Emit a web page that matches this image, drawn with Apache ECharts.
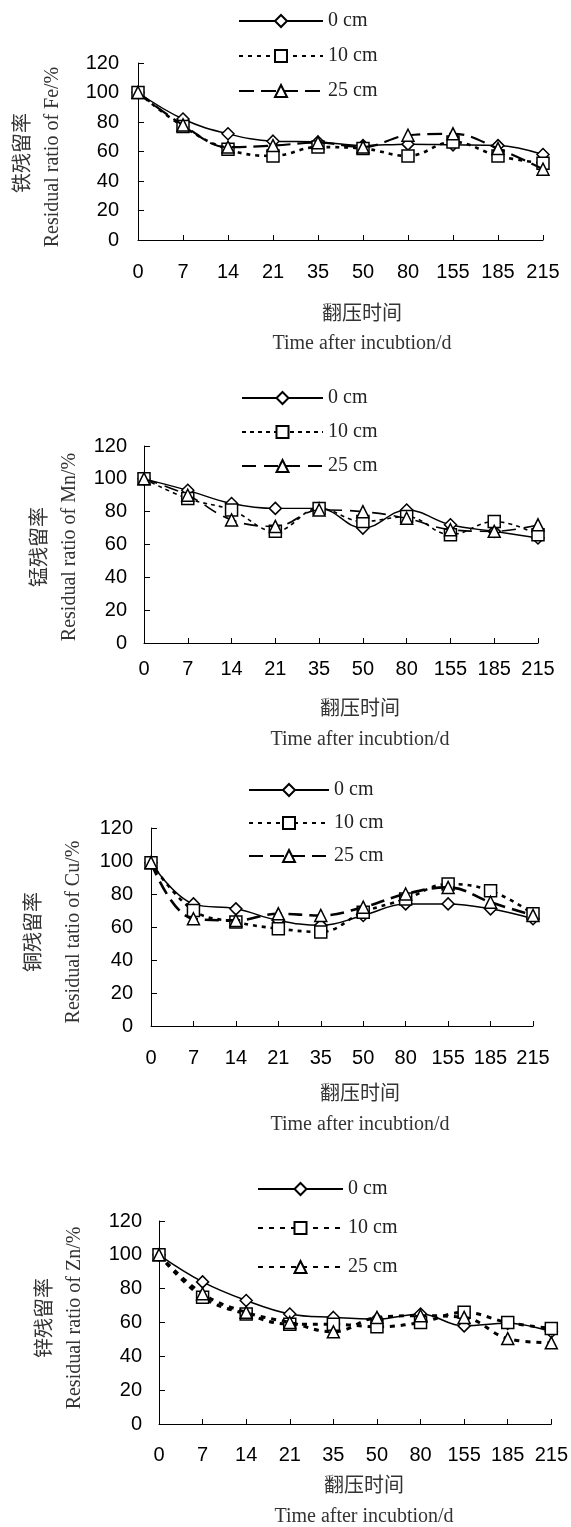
<!DOCTYPE html>
<html><head><meta charset="utf-8">
<script src="https://cdn.jsdelivr.net/npm/echarts@6/dist/echarts.min.js"></script>
<style>
html,body{margin:0;padding:0;background:#fff;}
.p{position:absolute;left:0;width:571px;}
</style></head>
<body>
<div id="c1" class="p" style="top:0;height:380px"></div>
<div id="c2" class="p" style="top:380px;height:390px"></div>
<div id="c3" class="p" style="top:770px;height:375px"></div>
<div id="c4" class="p" style="top:1145px;height:382px"></div>
<script>
// ---- data ----
const categories = ['0','7','14','21','35','50','80','155','185','215'];
const seriesNames = ['0 cm','10 cm','25 cm'];
const yTicks = [0,20,40,60,80,100,120];

const fe0  = [100, 82, 72, 67, 66.5, 64, 65, 64.5, 64, 58];
const fe10 = [100, 77, 61.5, 57, 63, 62, 57, 66.5, 57, 52];
const fe25 = [100, 78, 63, 64, 66, 63, 71, 72, 62, 48];

const mn0  = [100, 93, 85, 82, 82, 70, 81, 72, 68, 64];
const mn10 = [100, 88, 81, 68, 82, 74, 77, 66, 74, 66];
const mn25 = [100, 90, 75, 71, 81, 80, 76, 69, 68, 72];

const cu0  = [99, 74, 71, 64, 61, 67, 74, 74, 71, 65];
const cu10 = [99, 70, 63, 59, 57, 69, 77, 86, 82, 68];
const cu25 = [99, 65, 64, 68, 67, 72, 80, 84, 75, 67];

const zn0  = [100, 84, 73, 65, 63, 62, 65, 58, 59.5, 54.5];
const zn10 = [100, 75, 65, 59, 59, 57.5, 60, 66, 60, 56.5];
const zn25 = [100, 77, 66, 60, 54.5, 63, 64, 63, 50.5, 48];

const xTitleCn = '翻压时间';
const xTitleEn = 'Time after incubtion/d';
const yTitlesCn = ['铁残留率','锰残留率','铜残留率','锌残留率'];
const yTitlesEn = ['Residual ratio of Fe/%','Residual ratio of Mn/%','Residual tatio of Cu/%','Residual ratio of Zn/%'];

// ---- layout / style ----
const SANS = '"Liberation Sans", Arial, sans-serif';
const SERIF = '"Liberation Serif", "Times New Roman", "Noto Sans CJK SC", serif';
const symbols = ['diamond','rect','triangle'];

const panels = [
  {id:'c1', data:[fe0,fe10,fe25], grid:{left:138, top:63, width:405, height:177},
   legend:{left:238, top:11, itemWidth:84, itemGap:15},
   lineTypes:[ {type:'solid',width:1.5}, {type:[4,5],width:2.6}, {type:[15,7],width:2.2} ],
   xMargin:22, yMargin:19, titleX:362, cnY:315, enY:344, yCn:[24,153], yEn:[53,157]},
  {id:'c2', data:[mn0,mn10,mn25], grid:{left:144, top:66, width:394, height:197},
   legend:{left:241, top:8, itemWidth:81, itemGap:14},
   lineTypes:[ {type:'solid',width:1.4}, {type:[4,4],width:1.6}, {type:[14,8],width:1.6} ],
   xMargin:16, yMargin:17, titleX:360, cnY:330, enY:360, yCn:[41,167], yEn:[70,167]},
  {id:'c3', data:[cu0,cu10,cu25], grid:{left:151, top:58, width:382, height:198},
   legend:{left:248, top:10, itemWidth:80, itemGap:13},
   lineTypes:[ {type:'solid',width:1.5}, {type:[4,5],width:2.6}, {type:[14,7],width:2.6} ],
   xMargin:22, yMargin:18, titleX:360, cnY:325, enY:355, yCn:[35,162], yEn:[74,162]},
  {id:'c4', data:[zn0,zn10,zn25], grid:{left:159, top:76, width:394, height:203},
   legend:{left:257, top:34, itemWidth:85, itemGap:19},
   lineTypes:[ {type:'solid',width:1.5}, {type:[5,6],width:3}, {type:[5,6],width:3} ],
   xMargin:21, yMargin:17, titleX:364, cnY:342, enY:372, yCn:[46,173], yEn:[75,173]}
];

panels.forEach((p, idx) => {
  const chart = echarts.init(document.getElementById(p.id), null, {renderer:'canvas'});
  const series = p.data.map((arr, i) => ({
    name: seriesNames[i],
    type: 'line',
    data: arr,
    smooth: 0.4,
    symbol: symbols[i],
    symbolSize: 12,
    showAllSymbol: true,
    lineStyle: {color:'#000', width:p.lineTypes[i].width, type:p.lineTypes[i].type},
    itemStyle: {color:'#fff', borderColor:'#000', borderWidth:1.5},
    emphasis: {disabled:true},
    z: 2 + i
  }));
  chart.setOption({
    animation: false,
    backgroundColor: '#fff',
    legend: {
      orient: 'vertical', left: p.legend.left, top: p.legend.top, padding: 0,
      itemWidth: p.legend.itemWidth, itemHeight: 15, itemGap: p.legend.itemGap,
      data: seriesNames,
      textStyle: {fontFamily: SERIF, fontSize: 20, color: '#222'},
      selectedMode: false
    },
    grid: p.grid,
    xAxis: {
      type: 'category', data: categories, boundaryGap: false,
      axisLine: {show:true, lineStyle:{color:'#000', width:1}},
      axisTick: {show:true, inside:true, length:5, lineStyle:{color:'#000'}},
      axisLabel: {interval:0, margin:p.xMargin, fontFamily:SANS, fontSize:20, color:'#000'},
      splitLine: {show:false}
    },
    yAxis: {
      type: 'value', min: yTicks[0], max: yTicks[yTicks.length-1], interval: yTicks[1]-yTicks[0],
      axisLine: {show:true, lineStyle:{color:'#000', width:1}},
      axisTick: {show:true, inside:true, length:6, lineStyle:{color:'#000'}},
      axisLabel: {margin:p.yMargin, fontFamily:SANS, fontSize:20, color:'#000'},
      splitLine: {show:false}
    },
    graphic: [
      {type:'text', x:p.titleX, y:p.cnY,
       style:{text:xTitleCn, font:'20px ' + SERIF, fill:'#333', align:'center', verticalAlign:'middle'}},
      {type:'text', x:p.titleX, y:p.enY,
       style:{text:xTitleEn, font:'20px ' + SERIF, fill:'#333', align:'center', verticalAlign:'middle'}},
      {type:'text', x:p.yCn[0], y:p.yCn[1], rotation:Math.PI/2,
       style:{text:yTitlesCn[idx], font:'20px ' + SERIF, fill:'#333', align:'center', verticalAlign:'middle'}},
      {type:'text', x:p.yEn[0], y:p.yEn[1], rotation:Math.PI/2,
       style:{text:yTitlesEn[idx], font:'20px ' + SERIF, fill:'#333', align:'center', verticalAlign:'middle'}}
    ],
    series: series
  });
});
</script>
</body></html>
